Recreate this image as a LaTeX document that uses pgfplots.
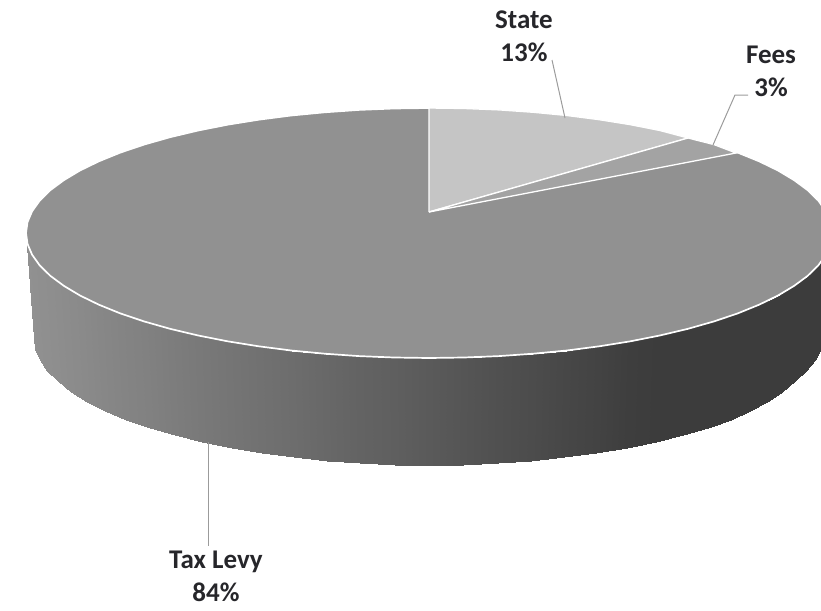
\documentclass[border=0pt]{standalone}
\usepackage{fontspec}
\setmainfont{Carlito}
\usepackage{pgfplots}
\pgfplotsset{compat=1.18}
\usepackage{pgfplotstable}

% side wall of the pie: rim row, then floor row; third column is the grey level
\pgfplotstableread{
x y g
832 233 60
830.5 243.9 60
825.9 254.7 60
818.3 265.4 60
807.7 275.8 60
794.2 285.8 60
778 295.5 60
759.1 304.7 60
737.7 313.4 60
714 321.4 60
688 328.8 60
660.2 335.4 60
630.5 341.3 62
599.3 346.3 67
566.8 350.5 71
533.3 353.7 76
499 356.1 80
464.1 357.5 85
429 358 90
393.9 357.5 95
359 356.1 99
324.7 353.7 104
291.2 350.5 109
258.7 346.3 113
227.5 341.3 117
197.8 335.4 121
170 328.8 125
144 321.4 129
120.3 313.4 132
98.9 304.7 135
80 295.5 138
63.8 285.8 140
50.3 275.8 142
39.7 265.4 143
32.1 254.7 144
27.5 243.9 145
26 233 145
823 338 60
821 349.1 60
815 360 60
806 370.9 60
795 381.4 60
782 391.7 60
767 401.5 60
750 410.8 60
731 419.6 60
708.3 427.8 60
682.9 435.3 60
655.6 442 60
626.5 448 62
595.9 453.1 67
564.1 457.3 71
531.2 460.7 76
497.6 463.1 80
463.4 464.5 85
429 465 90
394.6 464.5 95
360.4 463.1 99
326.8 460.7 104
293.9 457.3 109
262.1 453.1 113
231.5 448 117
202.4 442 121
175.1 435.3 125
149.7 427.8 129
126.4 419.6 132
105.4 410.8 135
86.9 401.5 138
71 391.7 140
57.8 381.4 142
47.5 370.9 143
40 360 144
35.5 349.1 145
34 338 145
}\sidewall

\definecolor{taxtop}{RGB}{145,145,145}
\definecolor{statetop}{RGB}{197,197,197}
\definecolor{feestop}{RGB}{163,163,163}
\definecolor{leader}{RGB}{155,155,155}
\definecolor{labeltext}{RGB}{38,38,42}

\tikzset{lab/.style={font=\fontsize{27}{32}\selectfont\bfseries, text=labeltext, inner sep=0pt}}

\begin{document}
\begin{tikzpicture}
\path[use as bounding box] (0,0) rectangle (821pt,610pt);
\begin{axis}[
    at={(0,0)}, anchor=south west,
    scale only axis,
    width=821pt, height=610pt,
    xmin=0, xmax=821,
    ymin=0, ymax=610,
    y dir=reverse,
    hide axis,
    colormap/blackwhite,
    point meta min=0, point meta max=255,
]

\addplot[surf, shader=interp, mesh/cols=37, point meta=explicit]
    table[x=x, y=y, meta=g] {\sidewall};

% top face, Tax Levy
\addplot[fill=taxtop, draw=white, line width=1.7pt] coordinates {
    (832,233) (830.5,243.9) (825.9,254.7) (818.3,265.4) (807.7,275.8) (794.2,285.8)
    (778,295.5) (759.1,304.7) (737.7,313.4) (714,321.4) (688,328.8) (660.2,335.4)
    (630.5,341.3) (599.3,346.3) (566.8,350.5) (533.3,353.7) (499,356.1) (464.1,357.5)
    (429,358) (393.9,357.5) (359,356.1) (324.7,353.7) (291.2,350.5) (258.7,346.3)
    (227.5,341.3) (197.8,335.4) (170,328.8) (144,321.4) (120.3,313.4) (98.9,304.7)
    (80,295.5) (63.8,285.8) (50.3,275.8) (39.7,265.4) (32.1,254.7) (27.5,243.9)
    (26,233) (27.5,222.1) (32.1,211.3) (39.7,200.6) (50.3,190.2) (63.8,180.2)
    (80,170.5) (98.9,161.3) (120.3,152.6) (144,144.6) (170,137.2) (197.8,130.6)
    (227.5,124.7) (258.7,119.7) (291.2,115.5) (324.7,112.3) (359,109.9) (393.9,108.5)
    (429,108) (464.1,108.5) (499,109.9) (533.3,112.3) (566.8,115.5) (599.3,119.7)
    (630.5,124.7) (660.2,130.6) (688,137.2) (714,144.6) (737.7,152.6) (759.1,161.3)
    (778,170.5) (794.2,180.2) (807.7,190.2) (818.3,200.6) (825.9,211.3) (830.5,222.1)
    (832,233)
};

% State
\addplot[fill=statetop, draw=white, line width=1.3pt] coordinates {
    (429,212) (429,108) (464.1,108.5) (499,109.9) (533.3,112.3) (566.8,115.5)
    (599.3,119.7) (630.5,124.7) (660.2,130.6) (688,138) (429,212)
};

% Fees
\addplot[fill=feestop, draw=white, line width=1.3pt] coordinates {
    (429,212) (688,138) (714,144.6) (736,153) (429,212)
};

% leader lines
\addplot[leader, line width=1pt] coordinates {(552,60) (565,118)};
\addplot[leader, line width=1pt] coordinates {(748,95) (735,95) (713,145)};
\addplot[leader, line width=1pt] coordinates {(208,442) (208,546)};

\node[lab] at (axis cs:524,20) {State};
\node[lab] at (axis cs:524,52) {13\%};
\node[lab] at (axis cs:771,55) {Fees};
\node[lab] at (axis cs:771,87) {3\%};
\node[lab] at (axis cs:216,562) {Tax Levy};
\node[lab] at (axis cs:216,592) {84\%};
\end{axis}
\end{tikzpicture}
\end{document}
